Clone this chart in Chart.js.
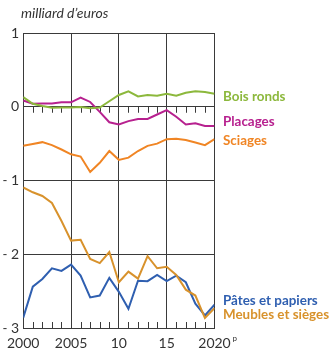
<!DOCTYPE html>
<html lang="fr">
<head>
<meta charset="UTF-8" />
<title>Solde commercial de la filière bois</title>
<script src="https://cdn.jsdelivr.net/npm/chart.js@4.4.0/dist/chart.umd.min.js"></script>
<style>
  html, body { margin: 0; padding: 0; background: #fff; }
  #wrap { position: relative; width: 331px; height: 350px; }
</style>
</head>
<body>
<div id="wrap"><canvas id="chart"></canvas></div>
<script>
// solde en milliards d'euros, 2000 à 2020 (2020 provisoire)
const years = [2000, 2001, 2002, 2003, 2004, 2005, 2006, 2007, 2008, 2009, 2010,
  2011, 2012, 2013, 2014, 2015, 2016, 2017, 2018, 2019, 2020];

const boisRonds = [0.13, 0.04, 0.01, -0.015, -0.01, -0.01, -0.005, -0.02, -0.01, 0.075, 0.16,
  0.21, 0.14, 0.16, 0.15, 0.175, 0.15, 0.19, 0.21, 0.2, 0.175];
const placages = [0.085, 0.04, 0.045, 0.045, 0.06, 0.06, 0.125, 0.065, -0.07, -0.21, -0.24,
  -0.195, -0.165, -0.165, -0.105, -0.045, -0.135, -0.24, -0.225, -0.26, -0.26];
const sciages = [-0.53, -0.505, -0.48, -0.52, -0.58, -0.645, -0.675, -0.885, -0.76, -0.6, -0.72,
  -0.69, -0.6, -0.53, -0.5, -0.44, -0.435, -0.45, -0.485, -0.52, -0.44];
const patesPapiers = [-2.86, -2.44, -2.335, -2.19, -2.225, -2.14, -2.29, -2.585, -2.56, -2.32, -2.51,
  -2.74, -2.36, -2.365, -2.28, -2.365, -2.29, -2.38, -2.67, -2.83, -2.685];
const meublesSieges = [-1.095, -1.16, -1.21, -1.305, -1.55, -1.815, -1.805, -2.065, -2.12, -1.97, -2.38,
  -2.235, -2.33, -2.025, -2.19, -2.17, -2.28, -2.48, -2.56, -2.865, -2.73];

const xTickText = { 2000: "2000", 2005: "2005", 2010: "10", 2015: "15", 2020: "2020" };

const series = [
  { label: "Bois ronds", data: boisRonds, color: "#8cb83c", y: 100.5 },
  { label: "Placages", data: placages, color: "#b7218f", y: 126 },
  { label: "Sciages", data: sciages, color: "#f08524", y: 144.5 },
  { label: "Meubles et sièges", data: meublesSieges, color: "#d8922c", y: 319 },
  { label: "Pâtes et papiers", data: patesPapiers, color: "#2f5fb0", y: 305 },
];

const GRID = "#3a3a3a";
const TEXT = "#333";

// petits tirets annuels sous la ligne 0 et au-dessus de l'axe du bas
const yearTicks = {
  id: "yearTicks",
  beforeDatasetsDraw(chart) {
    const { ctx, scales: { x, y } } = chart;
    const y0 = y.getPixelForValue(0);
    const yb = y.getPixelForValue(-3);
    ctx.save();
    ctx.strokeStyle = GRID;
    ctx.lineWidth = 1;
    ctx.beginPath();
    years.forEach(yr => {
      if (yr % 5 === 0) return;
      const px = Math.round(x.getPixelForValue(yr)) + 0.5;
      ctx.moveTo(px, y0);
      ctx.lineTo(px, y0 + 6);
      ctx.moveTo(px, yb);
      ctx.lineTo(px, yb - 6);
    });
    ctx.stroke();
    ctx.restore();
  },
};

// unité, étiquettes des séries et "p" de 2020
const annotations = {
  id: "annotations",
  afterDraw(chart) {
    const { ctx, scales: { x } } = chart;
    ctx.save();
    ctx.textBaseline = "alphabetic";
    ctx.textAlign = "left";
    ctx.fillStyle = TEXT;
    ctx.font = "italic 14px Lato, 'Open Sans', sans-serif";
    ctx.fillText("milliard d’euros", 21, 18);

    ctx.font = "bold 13.4px Lato, 'Open Sans', sans-serif";
    series.forEach(s => {
      ctx.fillStyle = s.color;
      ctx.fillText(s.label, 223, s.y);
    });

    ctx.fillStyle = TEXT;
    ctx.font = "8px Lato, sans-serif";
    ctx.fillText("p", x.getPixelForValue(2020) + 18, 341);
    ctx.restore();
  },
};

new Chart(document.getElementById("chart"), {
  type: "line",
  data: {
    datasets: series.map(s => ({
      label: s.label,
      data: s.data.map((v, i) => ({ x: years[i], y: v })),
      borderColor: s.color,
      backgroundColor: s.color,
      borderWidth: 2,
      pointRadius: 0,
      tension: 0,
    })),
  },
  options: {
    responsive: true,
    maintainAspectRatio: false,
    animation: false,
    layout: { padding: { left: 0, right: 116.5, top: 33, bottom: 0 } },
    plugins: { legend: { display: false }, tooltip: { enabled: false } },
    scales: {
      x: {
        type: "linear",
        min: 2000,
        max: 2020,
        afterFit: s => { s.height = 22; },
        border: { display: true, color: GRID, width: 1 },
        grid: { color: GRID, lineWidth: 1, drawTicks: false },
        ticks: {
          stepSize: 5,
          autoSkip: false,
          maxRotation: 0,
          padding: 7,
          color: TEXT,
          font: { family: "Lato, 'Open Sans', sans-serif", size: 14 },
          callback: v => xTickText[v] ?? "",
        },
      },
      y: {
        min: -3,
        max: 1,
        afterFit: s => { s.width = 20; },
        border: { display: true, color: GRID, width: 1 },
        grid: { color: GRID, lineWidth: 1, drawTicks: false },
        ticks: {
          stepSize: 1,
          padding: 4,
          color: TEXT,
          font: { family: "Lato, 'Open Sans', sans-serif", size: 14 },
          callback: v => (v < 0 ? "- " + Math.abs(v) : String(v)),
        },
      },
    },
  },
  plugins: [yearTicks, annotations],
});
</script>
</body>
</html>
